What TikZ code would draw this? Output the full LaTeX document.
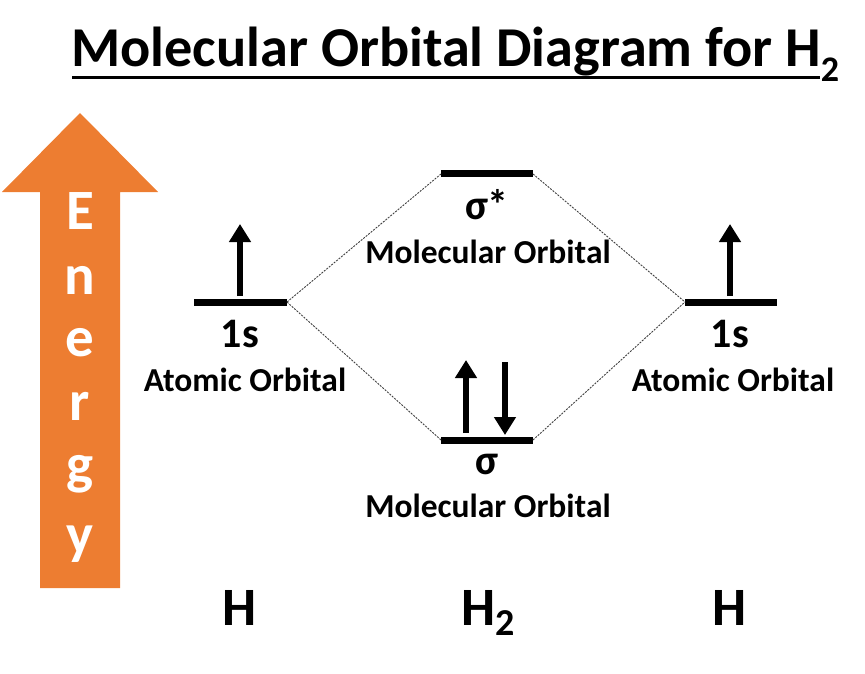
\documentclass[tikz,border=0pt]{standalone}
\usepackage{fontspec}
\setmainfont{Carlito}
\usetikzlibrary{arrows.meta}
\definecolor{energyorange}{HTML}{ED7D31}
\newcommand{\fs}[1]{\fontsize{#1}{#1}\selectfont}
\tikzset{
  level/.style={line width=7pt},
  link/.style={line width=0.9pt, gray!50!black, dash pattern=on 2pt off 1.2pt},
  spin/.style={line width=5.5pt, -{Triangle[length=18pt,width=21pt]}},
  big/.style={font=\bfseries\fs{42}, inner sep=0pt},
  small/.style={font=\bfseries\fs{33.5}, inner sep=0pt},
  letter/.style={font=\bfseries\fs{57}, text=white, inner sep=0pt},
  atom/.style={font=\bfseries\fs{54}, inner sep=0pt}
}
\begin{document}
\begin{tikzpicture}[x=1pt,y=-1pt]
\useasboundingbox (0,0) rectangle (865,674);
% title
\node[font=\bfseries\fs{56.3}, inner sep=0pt, anchor=base west] (title) at (71,67)
  {Molecular Orbital Diagram for H\raisebox{-0.26em}{\fs{36}2}};
\draw[line width=3pt] (72,78) -- (820,78);
% energy arrow
\fill[energyorange] (40,588) -- (40,192) -- (2,192) -- (80,113) -- (158,192)
  -- (120,192) -- (120,588) -- cycle;
\node[letter] (e1) at (80,211) {E};
\node[letter] (e2) at (80,280) {n};
\node[letter] (e3) at (80,343) {e};
\node[letter] (e4) at (80,406) {r};
\node[letter] (e5) at (80,474) {g};
\node[letter] (e6) at (80,544) {y};
% levels
\coordinate (L1) at (194,302); \coordinate (L2) at (287,302);
\coordinate (R1) at (685,302); \coordinate (R2) at (777,302);
\coordinate (S1) at (441,174); \coordinate (S2) at (533,174);
\coordinate (B1) at (441,440); \coordinate (B2) at (533,440);
\draw[level] (L1) -- (L2);
\draw[level] (R1) -- (R2);
\draw[level] (S1) -- (S2);
\draw[level] (B1) -- (B2);
\draw[link] (L2) -- (S1);
\draw[link] (L2) -- (B1);
\draw[link] (S2) -- (R1);
\draw[link] (B2) -- (R1);
% spins
\coordinate (la0) at (240,296); \coordinate (la1) at (240,224);
\coordinate (ra0) at (730,296); \coordinate (ra1) at (730,224);
\coordinate (bu0) at (466,433); \coordinate (bu1) at (466,360);
\coordinate (bd0) at (505,362); \coordinate (bd1) at (505,435);
\draw[spin] (la0) -- (la1);
\draw[spin] (ra0) -- (ra1);
\draw[spin] (bu0) -- (bu1);
\draw[spin] (bd0) -- (bd1);
% labels
\node[big, anchor=base] (l1s) at (240,347) {1s};
\node[small] (lao) at (245,380) {Atomic Orbital};
\node[big, anchor=base] (r1s) at (730,347) {1s};
\node[small] (rao) at (733,380) {Atomic Orbital};
\node[big] (sst) at (487,205) {σ*};
\node[small] (smo) at (488,252) {Molecular Orbital};
\node[big] (sb) at (487,464) {σ};
\node[small] (bmo) at (488,506) {Molecular Orbital};
% atoms
\node[atom, anchor=base] (hl) at (240,625) {H};
\node[atom, anchor=base] (h2) at (488,625) {H\raisebox{-0.2em}{\fs{38}2}};
\node[atom, anchor=base] (hr) at (730,625) {H};
\end{tikzpicture}
\end{document}
